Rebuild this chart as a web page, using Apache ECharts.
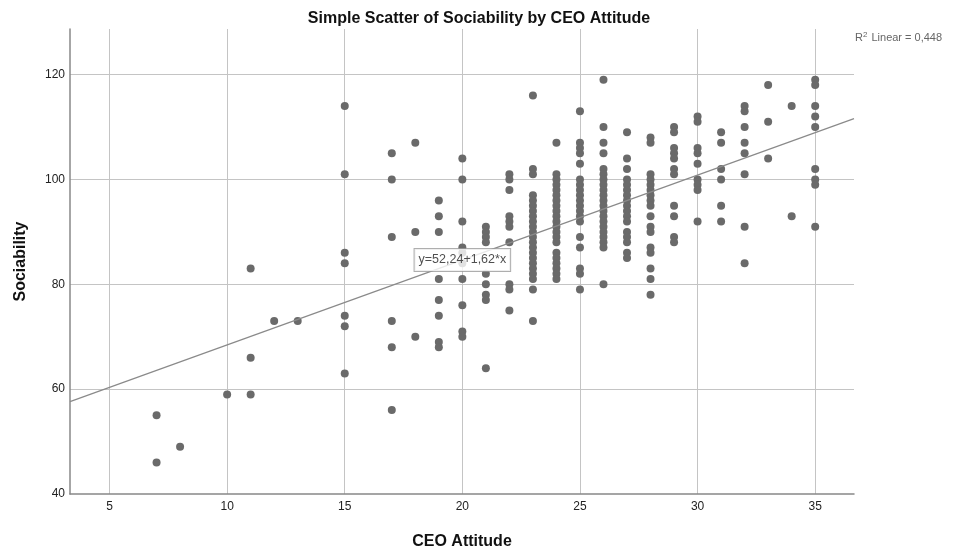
<!DOCTYPE html>
<html>
<head>
<meta charset="utf-8">
<title>Simple Scatter of Sociability by CEO Attitude</title>
<script src="https://cdn.jsdelivr.net/npm/echarts@6/dist/echarts.min.js"></script>
<style>
  html, body { margin: 0; padding: 0; background: #fff; }
  #chart { width: 954px; height: 551px; }
</style>
</head>
<body>
<div id="chart"></div>
<script>
// CEO attitude scores (x) and the sociability scores observed at each score (y)
const attitudeLevels = [7, 8, 10, 11, 12, 13, 15, 17, 18, 19, 20, 21, 22, 23, 24, 25, 26, 27, 28, 29, 30, 31, 32, 33, 34, 35];
const sociabilityByLevel = [
  [55, 46],
  [49],
  [59],
  [83, 66, 59],
  [73],
  [73],
  [114, 101, 86, 84, 74, 72, 63],
  [105, 100, 89, 73, 68, 56],
  [107, 90, 70],
  [96, 93, 90, 81, 77, 74, 69, 68],
  [104, 100, 92, 87, 86, 84, 81, 76, 71, 70],
  [91, 90, 89, 88, 82, 80, 78, 77, 64],
  [101, 100, 98, 93, 92, 91, 88, 80, 79, 75],
  [116, 102, 101, 97, 96, 95, 94, 93, 92, 91, 90, 89, 88, 87, 86, 85, 84, 83, 82, 81, 79, 73],
  [107, 101, 100, 99, 98, 97, 96, 95, 94, 93, 92, 91, 90, 89, 88, 86, 85, 84, 83, 82, 81],
  [113, 107, 106, 105, 103, 100, 99, 98, 97, 96, 95, 94, 93, 92, 89, 87, 83, 82, 79],
  [119, 110, 107, 105, 102, 101, 100, 99, 98, 97, 96, 95, 94, 93, 92, 91, 90, 89, 88, 87, 80],
  [109, 104, 102, 100, 99, 98, 97, 96, 95, 94, 93, 92, 90, 89, 88, 86, 85],
  [108, 107, 101, 100, 99, 98, 97, 96, 95, 93, 91, 90, 87, 86, 83, 81, 78],
  [110, 109, 106, 105, 104, 102, 101, 95, 93, 89, 88],
  [112, 111, 106, 105, 103, 100, 99, 98, 92],
  [109, 107, 102, 100, 95, 92],
  [114, 113, 110, 107, 105, 101, 91, 84],
  [118, 111, 104],
  [114, 93],
  [119, 118, 114, 112, 110, 102, 100, 99, 91]
];

// Linear fit reported with the chart
const fitIntercept = 52.24;
const fitSlope = 1.62;
const fitLabelAt = 20;
const rSquaredText = '0,448';

// Axis ranges
const xRange = [3.32, 36.65];
const yRange = [40, 128.7];

const points = [];
attitudeLevels.forEach((x, i) => {
  sociabilityByLevel[i].forEach(y => points.push([x, y]));
});

const fitAt = x => fitIntercept + fitSlope * x;
const fitLine = [[xRange[0], fitAt(xRange[0])], [xRange[1], fitAt(xRange[1])]];
const fmt = v => v.toFixed(2).replace('.', ',');

const FONT = '"Liberation Sans", Arial, sans-serif';
const chart = echarts.init(document.getElementById('chart'), null, { renderer: 'canvas' });

chart.setOption({
  backgroundColor: '#ffffff',
  animation: false,
  title: {
    text: 'Simple Scatter of Sociability by CEO Attitude',
    left: 474,
    top: 6,
    textAlign: 'center',
    textStyle: { fontFamily: FONT, fontSize: 16, fontWeight: 'bold', color: '#111' }
  },
  grid: { left: 70, right: 100, top: 29, bottom: 57, containLabel: false, outerBoundsMode: 'none' },
  xAxis: {
    type: 'value',
    min: xRange[0],
    max: xRange[1],
    name: 'CEO Attitude',
    nameLocation: 'middle',
    nameGap: 40,
    nameTextStyle: { fontFamily: FONT, fontSize: 16, fontWeight: 'bold', color: '#111' },
    axisLine: { show: true, onZero: false, lineStyle: { color: '#888888', width: 1.5 } },
    axisTick: { show: false },
    axisLabel: { fontFamily: FONT, fontSize: 12, color: '#222', margin: 7, showMinLabel: false, showMaxLabel: false },
    splitLine: { show: true, showMinLine: false, showMaxLine: false, lineStyle: { color: '#c4c4c4', width: 1 } }
  },
  yAxis: {
    type: 'value',
    min: yRange[0],
    max: yRange[1],
    name: 'Sociability',
    nameLocation: 'middle',
    nameRotate: 90,
    nameGap: 41,
    nameTextStyle: { fontFamily: FONT, fontSize: 16, fontWeight: 'bold', color: '#111' },
    axisLine: { show: true, onZero: false, lineStyle: { color: '#888888', width: 1.5 } },
    axisTick: { show: false },
    axisLabel: { fontFamily: FONT, fontSize: 12, color: '#222', margin: 5, showMinLabel: true, showMaxLabel: false },
    splitLine: { show: true, showMinLine: false, showMaxLine: false, lineStyle: { color: '#c4c4c4', width: 1 } }
  },
  series: [
    {
      name: 'Sociability',
      type: 'scatter',
      data: points,
      symbol: 'circle',
      symbolSize: 8,
      itemStyle: { color: '#6a6a6a', opacity: 1 },
      z: 2
    },
    {
      name: 'Fit line',
      type: 'line',
      data: fitLine,
      showSymbol: false,
      symbol: 'none',
      lineStyle: { color: '#8a8a8a', width: 1.2 },
      z: 3
    },
    {
      name: 'Fit equation',
      type: 'scatter',
      data: [[fitLabelAt, fitAt(fitLabelAt)]],
      symbolSize: 1,
      itemStyle: { color: 'rgba(0,0,0,0)' },
      label: {
        show: true,
        position: 'inside',
        formatter: () => 'y=' + fmt(fitIntercept) + '+' + fmt(fitSlope) + '*x',
        fontFamily: FONT,
        fontSize: 12.5,
        color: '#222',
        backgroundColor: '#ffffff',
        borderColor: '#9a9a9a',
        borderWidth: 1,
        padding: [5, 4, 4, 4]
      },
      z: 5
    }
  ],
  graphic: [
    {
      type: 'text',
      left: 855,
      top: 31,
      style: {
        text: 'R{sup|2} Linear = ' + rSquaredText,
        fontFamily: FONT,
        fontSize: 11,
        fill: '#666',
        rich: {
          sup: { fontSize: 8, verticalAlign: 'top', fill: '#666', padding: [0, 1, 6, 0] }
        }
      }
    }
  ]
});
</script>
</body>
</html>
